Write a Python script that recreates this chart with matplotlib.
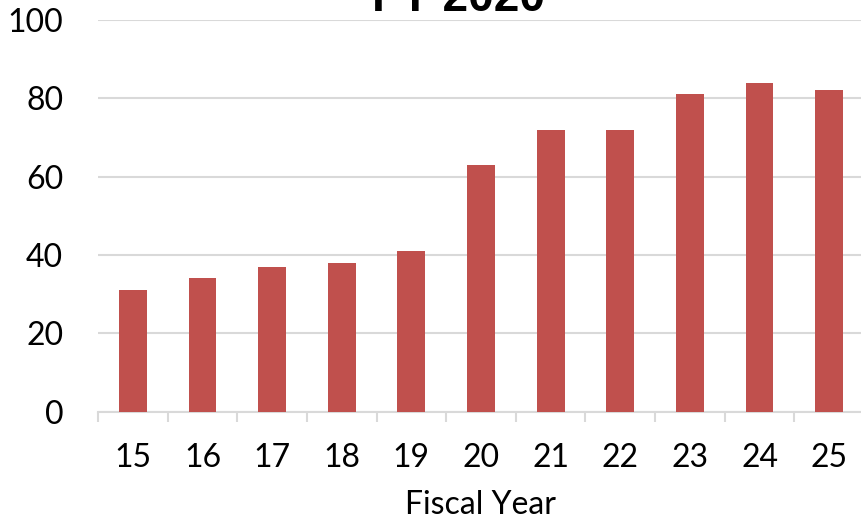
import numpy as np
import matplotlib
matplotlib.use("Agg")
import matplotlib.pyplot as plt

years = ["15", "16", "17", "18", "19", "20", "21", "22", "23", "24", "25"]
values = [31, 34, 37, 38, 41, 63, 72, 72, 81, 84, 82]

bar_color = "#C0504D"
grid_color = "#D9D9D9"

plt.rcParams['font.family'] = ['Lato', 'DejaVu Sans']

fig = plt.figure(figsize=(8.62, 5.21), dpi=100)
ax = fig.add_axes([98 / 862, 1 - 411.5 / 521, 766 / 862, 391.5 / 521])

x = np.arange(len(years))
ax.bar(x, values, width=0.4, color=bar_color, zorder=3)

ax.set_xlim(-0.5, len(years) - 0.5)
ax.set_ylim(0, 100)
ax.set_yticks([0, 20, 40, 60, 80, 100])
ax.yaxis.grid(True, color=grid_color, linewidth=1.5, zorder=0)

ax.set_xticks(x)
ax.set_xticklabels(years)
ax.set_xticks(np.arange(-0.5, len(years)), minor=True)
ax.tick_params(axis='x', which='major', length=0, pad=23, labelsize=23)
ax.tick_params(axis='x', which='minor', length=7.5, width=1.5, color=grid_color)
ax.tick_params(axis='y', length=0, pad=25, labelsize=23)

for s in ['top', 'right', 'left']:
    ax.spines[s].set_visible(False)
ax.spines['bottom'].set_color(grid_color)
ax.spines['bottom'].set_linewidth(1.5)

ax.set_xlabel("Fiscal Year", fontsize=23, labelpad=12)

# title sits partly above the canvas, as in the original export
fig.text(0.532, 1 - 11 / 521, "FY 2020", ha='center', va='baseline',
         fontsize=33, fontweight='bold', family=['Liberation Sans', 'DejaVu Sans'])

fig.savefig("out.png", dpi=100)
